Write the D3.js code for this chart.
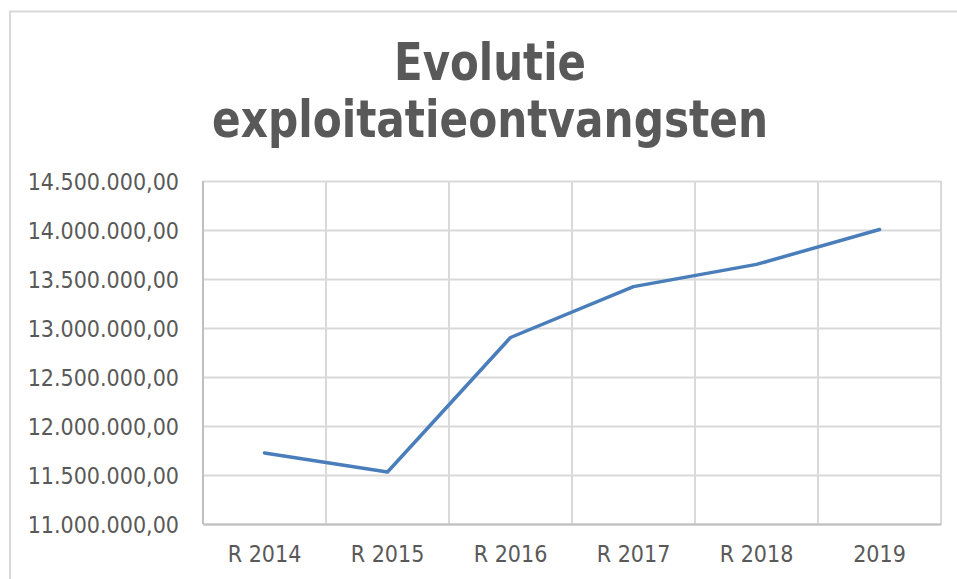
<!DOCTYPE html>
<html>
<head>
<meta charset="utf-8">
<script src="https://cdn.jsdelivr.net/npm/d3@7"></script>
<style>
  body { margin: 0; background: #fff; }
  svg { display: block; }
</style>
</head>
<body>
<div id="chart"></div>
<script>
// Chart data
var categories = ["R 2014", "R 2015", "R 2016", "R 2017", "R 2018", "2019"];
var revenues = [11725000, 11531000, 12903000, 13422000, 13649000, 14005000];
var yTicks = [11000000, 11500000, 12000000, 12500000, 13000000, 13500000, 14000000, 14500000];
var titleLines = ["Evolutie", "exploitatieontvangsten"];

// SVG area
var svgWidth = 957;
var svgHeight = 579;

// Plot area
var plot = { left: 203, right: 941, top: 181, bottom: 524 };

var svg = d3.select("#chart")
  .append("svg")
  .attr("width", svgWidth)
  .attr("height", svgHeight);

// Outer chart border (runs past the right and bottom edges)
svg.append("rect")
  .attr("x", 10)
  .attr("y", 11.5)
  .attr("width", 1000)
  .attr("height", 1000)
  .attr("fill", "none")
  .attr("stroke", "#d9d9d9")
  .attr("stroke-width", 2);

// Dutch number format: 14.500.000,00
var nl = d3.formatLocale({ decimal: ",", thousands: ".", grouping: [3], currency: ["€", ""] });
var fmt = nl.format(",.2f");

// Scales
var xScale = d3.scaleBand()
  .domain(categories)
  .range([plot.left, plot.right])
  .padding(0);

var yScale = d3.scaleLinear()
  .domain([d3.min(yTicks), d3.max(yTicks)])
  .range([plot.bottom, plot.top]);

// Horizontal gridlines + y labels
var leftAxis = d3.axisLeft(yScale)
  .tickValues(yTicks)
  .tickFormat(fmt)
  .tickSize(-(plot.right - plot.left))
  .tickPadding(24);

var yAxisG = svg.append("g")
  .attr("transform", "translate(" + plot.left + ",0)")
  .call(leftAxis);
yAxisG.select(".domain").remove();
yAxisG.selectAll(".tick line")
  .attr("stroke", "#d9d9d9")
  .attr("stroke-width", 2);
yAxisG.selectAll(".tick text")
  .attr("fill", "#595959")
  .attr("font-family", "Tahoma, 'DejaVu Sans Condensed', sans-serif")
  .attr("font-size", "23px")
  .attr("dy", "0.36em");

// Vertical gridlines at category boundaries
var bounds = categories.map(function(c) { return xScale(c); }).concat([plot.right]);
svg.append("g")
  .selectAll("line")
  .data(bounds)
  .join("line")
  .attr("x1", function(d) { return d; })
  .attr("x2", function(d) { return d; })
  .attr("y1", plot.top)
  .attr("y2", plot.bottom)
  .attr("stroke", "#d9d9d9")
  .attr("stroke-width", 2);

// Bottom axis line and category labels
var bottomAxis = d3.axisBottom(xScale)
  .tickSize(0)
  .tickPadding(22);

var xAxisG = svg.append("g")
  .attr("transform", "translate(0," + plot.bottom + ")")
  .call(bottomAxis);
xAxisG.select(".domain")
  .attr("stroke", "#bfbfbf")
  .attr("stroke-width", 2);
xAxisG.selectAll(".tick text")
  .attr("fill", "#595959")
  .attr("font-family", "Tahoma, 'DejaVu Sans Condensed', sans-serif")
  .attr("font-size", "23px");

// Left axis line
svg.append("line")
  .attr("x1", plot.left).attr("x2", plot.left)
  .attr("y1", plot.top).attr("y2", plot.bottom)
  .attr("stroke", "#bfbfbf")
  .attr("stroke-width", 2);

// Revenue line
var line = d3.line()
  .x(function(d, i) { return xScale(categories[i]) + xScale.bandwidth() / 2; })
  .y(function(d) { return yScale(d); });

svg.append("path")
  .datum(revenues)
  .attr("d", line)
  .attr("fill", "none")
  .attr("stroke", "#4a7ebb")
  .attr("stroke-width", 3.5)
  .attr("stroke-linejoin", "round")
  .attr("stroke-linecap", "round");

// Title (two lines)
var titleWidths = [192, 556];
svg.append("g")
  .selectAll("text")
  .data(titleLines)
  .join("text")
  .attr("x", 490)
  .attr("y", function(d, i) { return 80 + i * 57; })
  .attr("text-anchor", "middle")
  .attr("fill", "#595959")
  .attr("font-family", "Tahoma, 'DejaVu Sans Condensed', sans-serif")
  .attr("font-weight", "bold")
  .attr("font-size", "51px")
  .attr("textLength", function(d, i) { return titleWidths[i]; })
  .attr("lengthAdjust", "spacingAndGlyphs")
  .text(function(d) { return d; });
</script>
</body>
</html>
